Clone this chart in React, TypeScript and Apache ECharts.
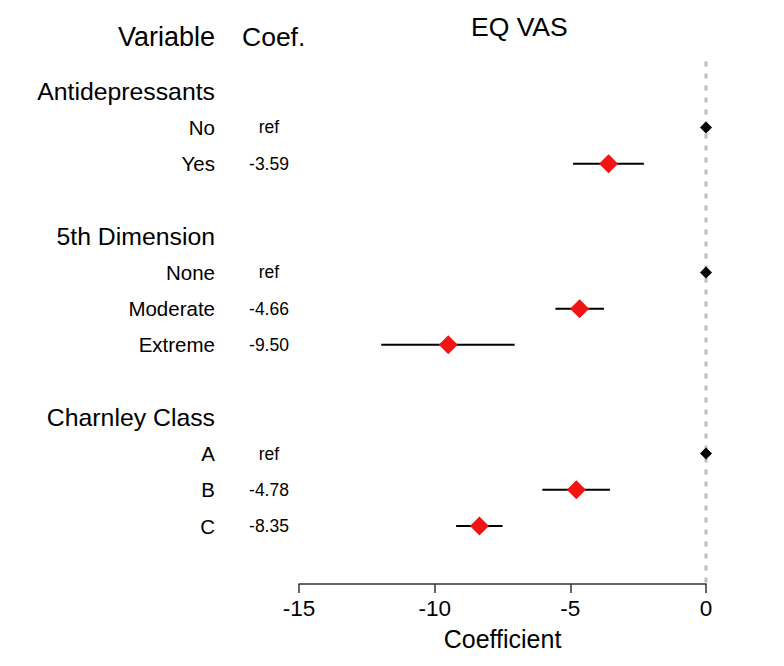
import React, { useEffect, useRef } from "react";
import * as echarts from "echarts";

const groups = ["Antidepressants", "5th Dimension", "Charnley Class"];
const levels = ["No", "Yes", "None", "Moderate", "Extreme", "A", "B", "C"];
const levelGroup = [0, 0, 1, 1, 1, 2, 2, 2];
const isRef = [true, false, true, false, false, true, false, false];
const coefs = [0, -3.59, 0, -4.66, -9.5, 0, -4.78, -8.35];
const lower = [0, -4.9, 0, -5.55, -11.97, 0, -6.03, -9.21];
const upper = [0, -2.29, 0, -3.76, -7.05, 0, -3.54, -7.5];
const xTicks = [-15, -10, -5, 0];

const FONT = "'Liberation Sans', Arial, Helvetica, sans-serif";

export default function App() {
  const ref = useRef<HTMLDivElement>(null);
  useEffect(() => {
    if (!ref.current) return;
    const chart = echarts.init(ref.current, null, { renderer: "svg" });

    const rowLabel: Record<number, string> = {};
    const rowCoef: Record<number, string> = {};
    const levelRow: number[] = [];
    let r = 0;
    groups.forEach((g, gi) => {
      rowLabel[r] = `{g|${g}}`;
      r++;
      levels.forEach((lv, li) => {
        if (levelGroup[li] !== gi) return;
        rowLabel[r] = `{l|${lv}}`;
        rowCoef[r] = isRef[li] ? "ref" : coefs[li].toFixed(2);
        levelRow[li] = r;
        r++;
      });
      r++;
    });
    const lastRow = r - 1;

    const idx = levels.map((_, i) => i);
    const refPts = idx.filter((i) => isRef[i]).map((i) => [coefs[i], levelRow[i]]);
    const estPts = idx.filter((i) => !isRef[i]).map((i) => [coefs[i], levelRow[i]]);
    const ciData = idx.filter((i) => !isRef[i]).map((i) => [lower[i], upper[i], levelRow[i]]);

    chart.setOption({
      animation: false,
      textStyle: { fontFamily: FONT },
      title: [
        { text: "EQ VAS", left: 466, top: 8, textStyle: { fontSize: 26.5, fontWeight: "normal", color: "#000", fontFamily: FONT } },
      ],
      graphic: [
        { type: "text", x: 215, y: 37, style: { text: "Variable", fontSize: 27, fill: "#000", align: "right", verticalAlign: "middle", fontFamily: FONT } },
        { type: "text", x: 242, y: 37, style: { text: "Coef.", fontSize: 26.5, fill: "#000", align: "left", verticalAlign: "middle", fontFamily: FONT } },
      ],
      grid: { left: 299, right: 78, top: 55, bottom: 82, containLabel: false },
      xAxis: {
        type: "value",
        position: "bottom",
        min: xTicks[0],
        max: xTicks[xTicks.length - 1],
        interval: 5,
        splitLine: { show: false },
        axisLine: { show: true, onZero: false, lineStyle: { color: "#333", width: 1.5 } },
        axisTick: { show: true, length: 9, lineStyle: { color: "#333", width: 1.5 } },
        axisLabel: { fontSize: 22.5, color: "#000", margin: 13, fontFamily: FONT },
        name: "Coefficient",
        nameLocation: "middle",
        nameGap: 42,
        nameTextStyle: { fontSize: 25, color: "#000", fontFamily: FONT },
      },
      yAxis: [
        {
          type: "value",
          inverse: true,
          min: -1,
          max: 13.6,
          interval: 1,
          position: "left",
          splitLine: { show: false },
          axisLine: { show: false, onZero: false },
          axisTick: { show: false },
          axisLabel: {
            margin: 84,
            align: "right",
            formatter: (v: number) => (Number.isInteger(v) && rowLabel[v] ? rowLabel[v] : ""),
            rich: {
              g: { fontSize: 24.8, color: "#000", fontFamily: FONT },
              l: { fontSize: 20.5, color: "#000", fontFamily: FONT },
            },
          },
        },
        {
          type: "value",
          inverse: true,
          min: -1,
          max: 13.6,
          interval: 1,
          position: "left",
          offset: 0,
          splitLine: { show: false },
          axisLine: { show: false, onZero: false },
          axisTick: { show: false },
          axisLabel: {
            margin: 30,
            align: "center",
            fontSize: 17.5,
            color: "#000",
            fontFamily: FONT,
            formatter: (v: number) => (Number.isInteger(v) && rowCoef[v] ? rowCoef[v] : ""),
          },
        },
      ],
      series: [
        {
          type: "line",
          data: [[0, -0.82], [0, lastRow + 1.03]],
          symbol: "none",
          lineStyle: { color: "#b4bfbf", width: 3, type: [5, 7] },
          z: 1,
          silent: true,
        },
        {
          type: "custom",
          data: ciData,
          z: 2,
          renderItem: (params: any, api: any) => {
            const p1 = api.coord([api.value(0), api.value(2)]);
            const p2 = api.coord([api.value(1), api.value(2)]);
            return {
              type: "line",
              shape: { x1: p1[0], y1: p1[1], x2: p2[0], y2: p2[1] },
              style: { stroke: "#000", lineWidth: 2 },
            };
          },
          encode: { x: [0, 1], y: 2 },
        },
        {
          type: "scatter",
          data: estPts,
          symbol: "diamond",
          symbolSize: 19,
          itemStyle: { color: "#f01414", opacity: 1 },
          z: 3,
        },
        {
          type: "scatter",
          data: refPts,
          symbol: "diamond",
          symbolSize: 12,
          itemStyle: { color: "#000", opacity: 1 },
          z: 3,
        },
      ],
    });
    return () => chart.dispose();
  }, []);
  return <div ref={ref} style={{ position: "fixed", left: 0, top: 0, width: 784, height: 666, background: "#fff" }} />;
}
